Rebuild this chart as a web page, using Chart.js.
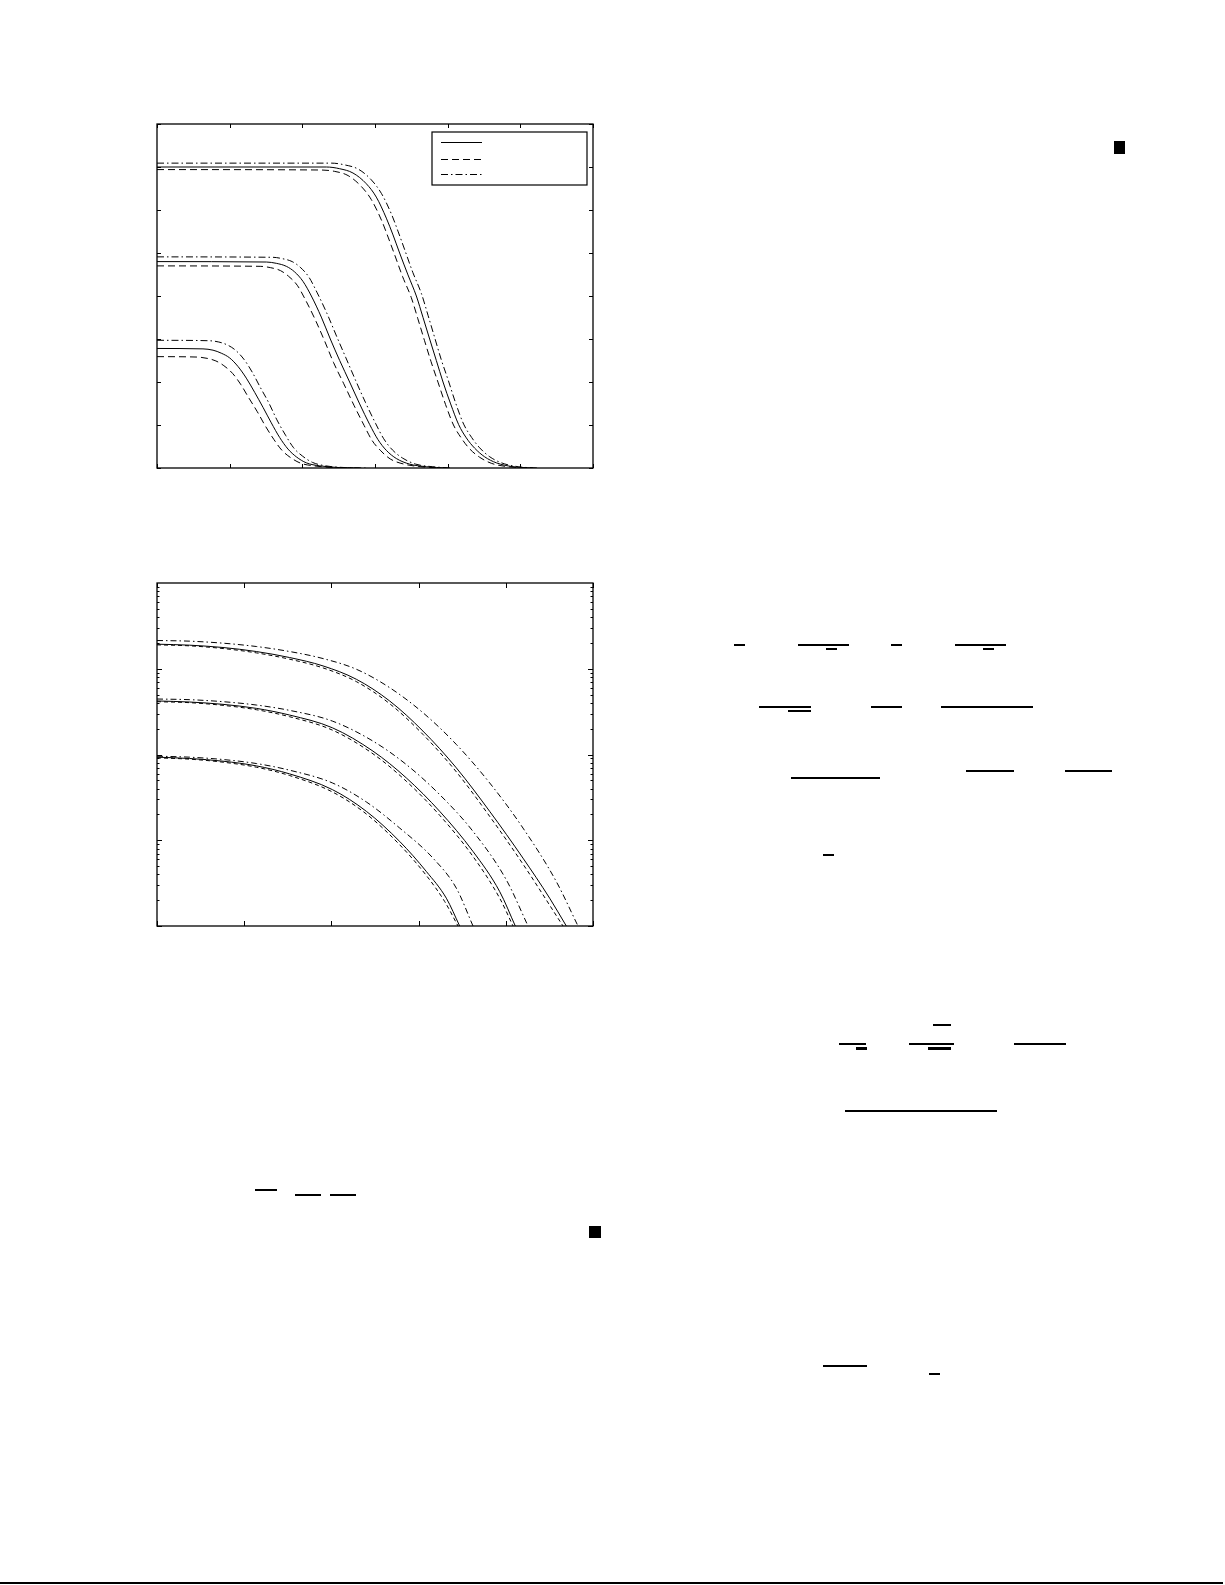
<!DOCTYPE html>
<html>
<head>
<meta charset="utf-8">
<script src="https://cdn.jsdelivr.net/npm/chart.js@4.4.1/dist/chart.umd.min.js"></script>
<style>
  html, body { margin: 0; padding: 0; background: #fff; }
  body { width: 1225px; height: 1585px; position: relative; overflow: hidden; }
  .panel { position: absolute; }
  .bar { position: absolute; background: #000; }
</style>
</head>
<body>
<div class="panel" style="left:147px; top:114px; width:456px; height:364px;"><canvas id="topChart"></canvas></div>
<div class="panel" style="left:147px; top:573px; width:456px; height:363px;"><canvas id="logChart"></canvas></div>
<div id="marks"></div>
<script>
// --- Top panel (linear) : three families, each solid / dashed / dash-dot ---
const lowSolidX   = [0, 0.633, 0.771, 0.885, 1.0, 1.115, 1.229, 1.344, 1.459, 1.573, 1.688, 1.803, 1.917, 2.055, 2.239, 2.514, 2.789];
const lowSolidY   = [2.78, 2.77, 2.74, 2.67, 2.56, 2.36, 2.09, 1.76, 1.41, 1.05, 0.71, 0.44, 0.26, 0.12, 0.05, 0.01, 0];
const lowDashX    = [0, 0.55, 0.69, 0.81, 0.92, 1.04, 1.15, 1.26, 1.38, 1.49, 1.61, 1.72, 1.84, 1.98, 2.16, 2.43, 2.70];
const lowDashY    = [2.59, 2.58, 2.55, 2.49, 2.38, 2.20, 1.95, 1.64, 1.31, 0.98, 0.66, 0.41, 0.24, 0.11, 0.05, 0.01, 0];
const lowDotX     = [0, 0.71, 0.85, 0.97, 1.08, 1.20, 1.31, 1.42, 1.54, 1.65, 1.77, 1.88, 2.00, 2.14, 2.32, 2.59, 2.87];
const lowDotY     = [2.97, 2.96, 2.93, 2.86, 2.74, 2.52, 2.23, 1.88, 1.51, 1.12, 0.76, 0.47, 0.28, 0.13, 0.05, 0.01, 0];

const midSolidX   = [0, 1.505, 1.642, 1.780, 1.894, 2.009, 2.124, 2.261, 2.385, 2.514, 2.651, 2.789, 2.927, 3.041, 3.156, 3.294, 3.477, 3.706, 3.982];
const midSolidY   = [4.80, 4.79, 4.76, 4.69, 4.56, 4.34, 4.00, 3.51, 3.00, 2.50, 2.00, 1.49, 1.01, 0.66, 0.41, 0.22, 0.09, 0.03, 0];
const midDashX    = [0, 1.42, 1.56, 1.70, 1.81, 1.93, 2.04, 2.18, 2.31, 2.43, 2.57, 2.71, 2.85, 2.96, 3.08, 3.21, 3.40, 3.63, 3.90];
const midDashY    = [4.70, 4.69, 4.66, 4.59, 4.46, 4.25, 3.92, 3.44, 2.94, 2.45, 1.96, 1.46, 0.99, 0.64, 0.40, 0.21, 0.09, 0.03, 0];
const midDotX     = [0, 1.59, 1.72, 1.86, 1.97, 2.09, 2.20, 2.34, 2.47, 2.60, 2.73, 2.87, 3.01, 3.12, 3.24, 3.38, 3.56, 3.79, 4.06];
const midDotY     = [4.91, 4.90, 4.87, 4.80, 4.67, 4.44, 4.09, 3.59, 3.07, 2.56, 2.05, 1.52, 1.03, 0.68, 0.42, 0.23, 0.09, 0.03, 0];

const highSolidX  = [0, 2.330, 2.514, 2.697, 2.881, 3.018, 3.156, 3.248, 3.339, 3.454, 3.569, 3.661, 3.752, 3.844, 3.936, 4.041, 4.151, 4.257, 4.372, 4.509, 4.670, 4.899, 5.174];
const highSolidY  = [7.0, 7.0, 6.96, 6.86, 6.61, 6.30, 5.81, 5.42, 5.00, 4.49, 4.00, 3.50, 3.00, 2.50, 2.00, 1.49, 1.01, 0.70, 0.46, 0.26, 0.12, 0.03, 0];
const highDashX   = [0, 2.26, 2.44, 2.63, 2.81, 2.95, 3.09, 3.18, 3.27, 3.38, 3.50, 3.59, 3.68, 3.77, 3.87, 3.97, 4.08, 4.19, 4.30, 4.44, 4.60, 4.83, 5.10];
const highDashY   = [6.94, 6.93, 6.90, 6.80, 6.55, 6.24, 5.76, 5.37, 4.96, 4.45, 3.96, 3.47, 2.97, 2.48, 1.98, 1.48, 1.00, 0.69, 0.45, 0.25, 0.11, 0.03, 0];
const highDotX    = [0, 2.40, 2.58, 2.77, 2.95, 3.09, 3.23, 3.32, 3.41, 3.52, 3.64, 3.73, 3.82, 3.91, 4.01, 4.11, 4.22, 4.33, 4.44, 4.58, 4.74, 4.97, 5.24];
const highDotY    = [7.09, 7.09, 7.05, 6.95, 6.70, 6.38, 5.89, 5.49, 5.07, 4.55, 4.05, 3.55, 3.04, 2.53, 2.03, 1.51, 1.02, 0.71, 0.47, 0.26, 0.12, 0.03, 0];

// --- Bottom panel (log y) ---
const aSolidX = [0, 0.375, 0.757, 1.139, 1.521, 1.904, 2.286, 2.668, 3.050, 3.433, 3.815, 4.197, 4.503, 4.694];
const aSolidY = [0.1934, 0.1883, 0.1769, 0.1588, 0.1351, 0.1079, 0.0754, 0.0421, 0.01875, 0.00698, 0.002174, 0.000619, 0.000211, 0.0001];
const aDashX  = [0, 0.375, 0.757, 1.139, 1.521, 1.904, 2.286, 2.668, 3.050, 3.433, 3.815, 4.197, 4.656];
const aDashY  = [0.19, 0.185, 0.1721, 0.1532, 0.1292, 0.1023, 0.0708, 0.03914, 0.01714, 0.006271, 0.0019, 0.000527, 0.0001];
const aDotX   = [0, 0.375, 0.757, 1.139, 1.521, 1.904, 2.286, 2.668, 3.050, 3.433, 3.815, 4.197, 4.579, 4.828];
const aDotY   = [0.2135, 0.2097, 0.1987, 0.1817, 0.1588, 0.1315, 0.0987, 0.0602, 0.03072, 0.01309, 0.004662, 0.001388, 0.00033, 0.0001];

const bSolidX = [0, 0.375, 0.757, 1.139, 1.521, 2.011, 2.477, 2.859, 3.242, 3.624, 3.930, 4.109];
const bSolidY = [0.0421, 0.04093, 0.03844, 0.03451, 0.02884, 0.0205, 0.01094, 0.005335, 0.002174, 0.00074, 0.000252, 0.0001];
const bDashX  = [0, 0.375, 0.757, 1.139, 1.521, 2.011, 2.477, 2.859, 3.242, 3.624, 3.930, 4.083];
const bDashY  = [0.0413, 0.04021, 0.03742, 0.03329, 0.02757, 0.01926, 0.01018, 0.004878, 0.001952, 0.000647, 0.000211, 0.0001];
const bDotX   = [0, 0.375, 0.757, 1.139, 1.521, 2.011, 2.477, 2.859, 3.242, 3.624, 4.006, 4.255];
const bDotY   = [0.04437, 0.04358, 0.0413, 0.03776, 0.0327, 0.02454, 0.01432, 0.007638, 0.003405, 0.001269, 0.000345, 0.0001];

const cSolidX = [0, 0.375, 0.757, 1.139, 1.521, 2.011, 2.401, 2.783, 3.089, 3.318, 3.471];
const cSolidY = [0.009307, 0.008979, 0.008356, 0.007371, 0.005939, 0.003897, 0.002174, 0.000969, 0.000432, 0.000211, 0.0001];
const cDashX  = [0, 0.375, 0.757, 1.139, 1.521, 2.011, 2.401, 2.783, 3.089, 3.299, 3.452];
const cDashY  = [0.009141, 0.008818, 0.008134, 0.007111, 0.005682, 0.00366, 0.002023, 0.000886, 0.000388, 0.000193, 0.0001];
const cDotX   = [0, 0.375, 0.757, 1.139, 1.521, 2.011, 2.401, 2.783, 3.165, 3.433, 3.624];
const cDotY   = [0.009561, 0.009307, 0.008739, 0.007847, 0.006559, 0.004662, 0.002795, 0.001388, 0.000619, 0.000276, 0.0001];

// line styles
const SOLID = [];
const DASH = [7, 4];
const DASHDOT = [7, 3, 1.5, 3];
const DASH_LOG = [4, 3];
const DASHDOT_LOG = [6, 3, 1.5, 3];

const pts = (xs, ys) => xs.map((x, i) => ({x, y: ys[i]}));
const line = (xs, ys, dash) => ({
  data: pts(xs, ys),
  borderColor: "#000",
  borderWidth: 1,
  borderDash: dash,
  pointRadius: 0,
  fill: false,
  cubicInterpolationMode: "monotone"
});

// --- frame + inward ticks (MATLAB look) ---
const frameTicks = {
  id: "frameTicks",
  afterDraw(chart, args, opts) {
    const {ctx, chartArea: a} = chart;
    const xs = chart.scales.x, ys = chart.scales.y;
    ctx.save();
    ctx.strokeStyle = "#000";
    ctx.lineWidth = 1;
    ctx.setLineDash([]);
    const seg = (x1, y1, x2, y2) => { ctx.beginPath(); ctx.moveTo(x1, y1); ctx.lineTo(x2, y2); ctx.stroke(); };
    for (let v = opts.xMin; v <= opts.xMax + 1e-9; v += opts.xStep) {
      const px = Math.round(xs.getPixelForValue(v)) + 0.5;
      seg(px, a.bottom, px, a.bottom - opts.len);
      seg(px, a.top, px, a.top + opts.len);
    }
    if (opts.log) {
      for (let e = opts.yMinExp; e < opts.yMaxExp; e++) {
        for (let m = 1; m <= 9; m++) {
          const py = Math.round(ys.getPixelForValue(m * Math.pow(10, e))) + 0.5;
          const l = m === 1 ? opts.len : opts.len / 2;
          seg(a.left, py, a.left + l, py);
          seg(a.right, py, a.right - l, py);
        }
      }
    } else {
      for (let v = opts.yMin; v <= opts.yMax + 1e-9; v += opts.yStep) {
        const py = Math.round(ys.getPixelForValue(v)) + 0.5;
        seg(a.left, py, a.left + opts.len, py);
        seg(a.right, py, a.right - opts.len, py);
      }
    }
    ctx.lineWidth = 1.3;
    ctx.strokeRect(a.left, a.top, a.right - a.left, a.bottom - a.top);
    ctx.restore();
  }
};

// legend box inside the top panel, line samples only
const lineLegend = {
  id: "lineLegend",
  afterDraw(chart, args, opts) {
    if (!opts.show) return;
    const {ctx, chartArea: a} = chart;
    const w = 155, h = 53;
    const bx = a.right - 6 - w, by = a.top + 8;
    ctx.save();
    ctx.fillStyle = "#fff";
    ctx.fillRect(bx, by, w, h);
    ctx.strokeStyle = "#000";
    ctx.lineWidth = 1.2;
    ctx.strokeRect(bx, by, w, h);
    const dashes = [SOLID, DASH, DASHDOT];
    const rows = [10, 27, 42];
    dashes.forEach((d, i) => {
      ctx.setLineDash(d);
      ctx.lineWidth = 1;
      ctx.beginPath();
      ctx.moveTo(bx + 9, by + rows[i] + 0.5);
      ctx.lineTo(bx + 50, by + rows[i] + 0.5);
      ctx.stroke();
    });
    ctx.restore();
  }
};

Chart.register(frameTicks, lineLegend);

const baseOptions = (yScale, tickOpts, legend) => ({
  responsive: true,
  maintainAspectRatio: false,
  animation: false,
  layout: {padding: 10},
  plugins: {
    legend: {display: false},
    tooltip: {enabled: false},
    frameTicks: tickOpts,
    lineLegend: {show: legend}
  },
  scales: {
    x: {type: "linear", display: false, min: tickOpts.xMin, max: tickOpts.xMax},
    y: yScale
  }
});

new Chart(document.getElementById("topChart"), {
  type: "line",
  data: {
    datasets: [
      line(highSolidX, highSolidY, SOLID), line(highDashX, highDashY, DASH), line(highDotX, highDotY, DASHDOT),
      line(midSolidX, midSolidY, SOLID), line(midDashX, midDashY, DASH), line(midDotX, midDotY, DASHDOT),
      line(lowSolidX, lowSolidY, SOLID), line(lowDashX, lowDashY, DASH), line(lowDotX, lowDotY, DASHDOT)
    ]
  },
  options: baseOptions(
    {type: "linear", display: false, min: 0, max: 8},
    {xMin: 0, xMax: 6, xStep: 1, yMin: 0, yMax: 8, yStep: 1, len: 4, log: false},
    true
  )
});

new Chart(document.getElementById("logChart"), {
  type: "line",
  data: {
    datasets: [
      line(aSolidX, aSolidY, SOLID), line(aDashX, aDashY, DASH_LOG), line(aDotX, aDotY, DASHDOT_LOG),
      line(bSolidX, bSolidY, SOLID), line(bDashX, bDashY, DASH_LOG), line(bDotX, bDotY, DASHDOT_LOG),
      line(cSolidX, cSolidY, SOLID), line(cDashX, cDashY, DASH_LOG), line(cDotX, cDotY, DASHDOT_LOG)
    ]
  },
  options: baseOptions(
    {type: "logarithmic", display: false, min: 0.0001, max: 1},
    {xMin: 0, xMax: 5, xStep: 1, yMinExp: -4, yMaxExp: 0, len: 5, log: true},
    false
  )
});

// --- page furniture: fraction bars, end-of-proof squares, footer rule ---
const furniture = [
  [734, 644, 11, 2], [798, 644, 51, 2], [826, 648, 11, 2], [891, 644, 11, 2], [955, 644, 51, 2], [983, 648, 11, 2],
  [759, 706, 52, 2], [788, 710, 23, 2], [871, 706, 31, 2], [941, 706, 92, 2],
  [791, 777, 89, 2], [966, 770, 48, 2], [1065, 770, 47, 2],
  [823, 854, 11, 2],
  [933, 1024, 18, 1.5], [839, 1043, 27, 1.5], [856, 1047, 11, 2.5], [909, 1043, 45, 1.5], [928, 1047, 23, 2.5], [1014, 1043, 52, 1.5],
  [845, 1110, 152, 2],
  [255, 1189, 22, 2], [295, 1194, 26, 2], [330, 1194, 26, 2],
  [823, 1365, 44, 1.5], [929, 1373, 11, 2],
  [1114, 141, 11, 13], [589, 1226, 12, 12],
  [0, 1582, 1223, 2]
];
const marks = document.getElementById("marks");
furniture.forEach(([l, t, w, h]) => {
  const d = document.createElement("div");
  d.className = "bar";
  d.style.left = l + "px"; d.style.top = t + "px";
  d.style.width = w + "px"; d.style.height = h + "px";
  marks.appendChild(d);
});
</script>
</body>
</html>
